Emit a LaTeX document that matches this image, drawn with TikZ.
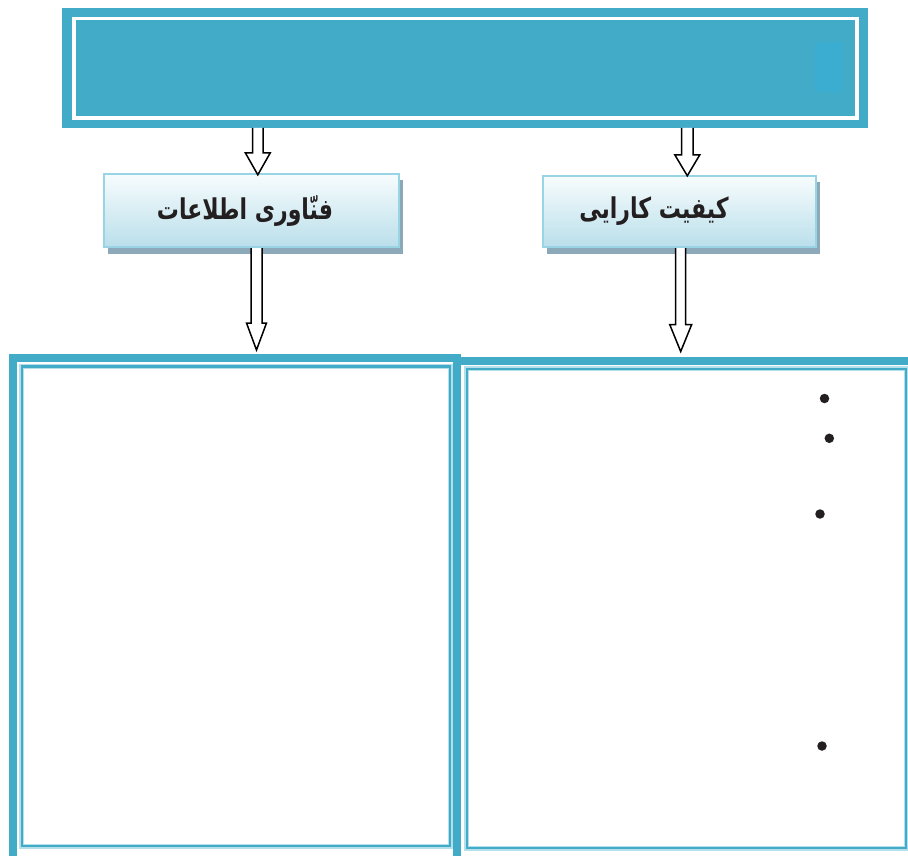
\documentclass[tikz,border=0pt]{standalone}
\usepackage{fontspec}
\newfontfamily\arabicfont[Script=Arabic]{DejaVu Sans}
\TeXXeTstate=1
\usetikzlibrary{calc,shadows}
\definecolor{tealc}{HTML}{42ACC8}
\definecolor{squarec}{HTML}{3AADD1}
\definecolor{boxedge}{HTML}{98D4E4}
\definecolor{boxtop}{HTML}{F7FCFD}
\definecolor{boxbot}{HTML}{BADFEB}
\definecolor{shadowc}{HTML}{8BA9B8}
\definecolor{halo}{HTML}{B5E0EB}
\definecolor{dotc}{HTML}{231F20}
\newcommand\hollowarrow[5]{%
  \draw[arrowline] ($(#1)+(-#3,0)$) -- ($(#2)+(-#3,-#5)$) -- ($(#2)+(-#4,-#5)$) -- (#2)
    -- ($(#2)+(#4,-#5)$) -- ($(#2)+(#3,-#5)$) -- ($(#1)+(#3,0)$);}
\begin{document}
\begin{tikzpicture}[x=1pt,y=-1pt,
  topbox/.style={fill=tealc, draw=none, minimum width=806pt, minimum height=120pt, inner sep=0pt, outer sep=0pt},
  smallbox/.style={draw=boxedge, line width=2.4pt, top color=boxtop, bottom color=boxbot,
     general shadow={fill=shadowc, shadow xshift=3.5pt, shadow yshift=-6.5pt}, inner sep=0pt},
  bigframe/.style={draw=tealc, line width=8pt, inner sep=0pt},
  thinframe/.style={draw=tealc, line width=2.4pt},
  haloframe/.style={draw=halo, line width=5pt},
  arrowline/.style={draw=black, line width=1.5pt, fill=white, line join=miter},
  lab/.style={font=\arabicfont\bfseries\fontsize{22}{26}\selectfont, text=dotc, inner sep=0pt, yscale=1.3, transform shape},
  bullet/.style={circle, fill=dotc, minimum size=9.5pt, inner sep=0pt}]
\useasboundingbox (0,0) rectangle (908,856);

% top banner
\node[topbox] (top) at (465,68) {};
\draw[white, line width=3.5pt] ([shift={(12,10.5)}]top.north west) rectangle ([shift={(-11,-10)}]top.south east);
\fill[squarec] (815,42) rectangle (842,92);

% small boxes
\node[smallbox, minimum width=295pt, minimum height=73pt] (it) at (251.5,210.5) {};
\node[lab] (itl) at (245,211) {\beginR فنّاوری اطلاعات\endR};
\node[smallbox, minimum width=273pt, minimum height=71pt] (kq) at (679.5,211.5) {};
\node[lab] (kql) at (654,211) {\beginR کیفیت کارایی\endR};

% big frames
\node[bigframe, minimum width=458pt, minimum height=501.5pt] (rbox) at (686,611.25) {};
\draw[haloframe] (466.7,368.8) rectangle (906,848);
\draw[thinframe] (466.7,368.8) rectangle (906,848);
\node[bigframe, minimum width=444pt, minimum height=502pt] (lbox) at (235,609) {};
\draw[haloframe] (21.7,366.5) rectangle (450,846);
\draw[thinframe] (21.7,366.5) rectangle (450,846);

% columns for arrows
\coordinate (c1) at (257.8,0);
\coordinate (c2) at (256.5,0);
\coordinate (c3) at (687.3,0);
\coordinate (c4) at (680.7,0);
\coordinate (a1s) at (top.south -| c1);
\coordinate (a1e) at ([yshift=-2pt]it.north -| c1);
\coordinate (a2s) at (it.south -| c2);
\coordinate (a2e) at ([yshift=4pt]lbox.north -| c2);
\coordinate (a3s) at (top.south -| c3);
\coordinate (a3e) at ([yshift=-1pt]kq.north -| c3);
\coordinate (a4s) at (kq.south -| c4);
\coordinate (a4e) at ([yshift=5pt]rbox.north -| c4);
\hollowarrow{a1s}{a1e}{5.2}{12.5}{22}
\hollowarrow{a2s}{a2e}{5.5}{10}{27}
\hollowarrow{a3s}{a3e}{5.7}{12.5}{21}
\hollowarrow{a4s}{a4e}{5}{11}{27}

% bullets
\node[bullet] (b1) at (824.5,398.5) {};
\node[bullet] (b2) at (829.3,438.3) {};
\node[bullet] (b3) at (820,514) {};
\node[bullet] (b4) at (822,746) {};
\end{tikzpicture}
\end{document}
